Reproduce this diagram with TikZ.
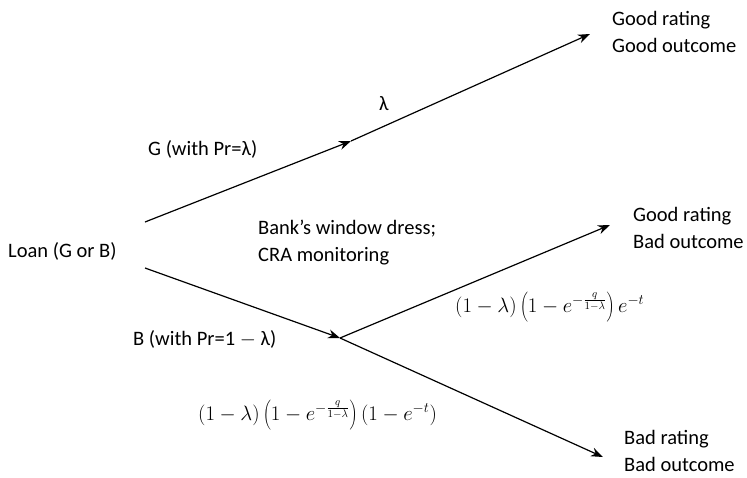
\documentclass[tikz,border=0pt]{standalone}
\usepackage{fontspec}
\setmainfont{Carlito}
\usetikzlibrary{arrows.meta}
\begin{document}
\begin{tikzpicture}[x=1pt,y=-1pt,
  lbl/.style={inner sep=0pt,anchor=west,font=\fontsize{20.5}{27}\selectfont,align=left},
  mth/.style={inner sep=0pt,anchor=west,font=\fontsize{22}{25}\selectfont},
  conn/.style={line width=1.2pt,-{Stealth[length=12pt,width=9pt]}}]
\useasboundingbox (0,0) rectangle (747,477);
% coordinates
\coordinate (gs) at (145,222);
\coordinate (gm) at (351,141);
\coordinate (ge) at (590,34);
\coordinate (bs) at (145,268);
\coordinate (bj) at (340,338);
\coordinate (be1) at (610,225);
\coordinate (be2) at (603,457);
% labels
\node[lbl] (loan) at (8,251) {Loan (G or B)};
\node[lbl] (gg) at (612,32) {Good rating\\Good outcome};
\node[lbl] (gb) at (633,228) {Good rating\\Bad outcome};
\node[lbl] (bb) at (624,451) {Bad rating\\Bad outcome};
\node[lbl] (lam) at (379,104) {λ};
\node[lbl] (gpr) at (148,149) {G (with Pr=λ)};
\node[lbl] (bank) at (258,243) {Bank’s window dress;\\CRA monitoring};
\node[lbl] (bpr) at (133,339) {B (with Pr=1 $-$ λ)};
\node[mth] (f1) at (455,307) {$(1-\lambda)\left(1-e^{-\frac{q}{1-\lambda}}\right)e^{-t}$};
\node[mth] (f2) at (198,415) {$(1-\lambda)\left(1-e^{-\frac{q}{1-\lambda}}\right)(1-e^{-t})$};
% connectors
\draw[conn] (gs) -- (gm);
\draw[conn] (gm) -- (ge);
\draw[conn] (bs) -- (bj);
\draw[conn] (bj) -- (be1);
\draw[conn] (bj) -- (be2);
\end{tikzpicture}
\end{document}
